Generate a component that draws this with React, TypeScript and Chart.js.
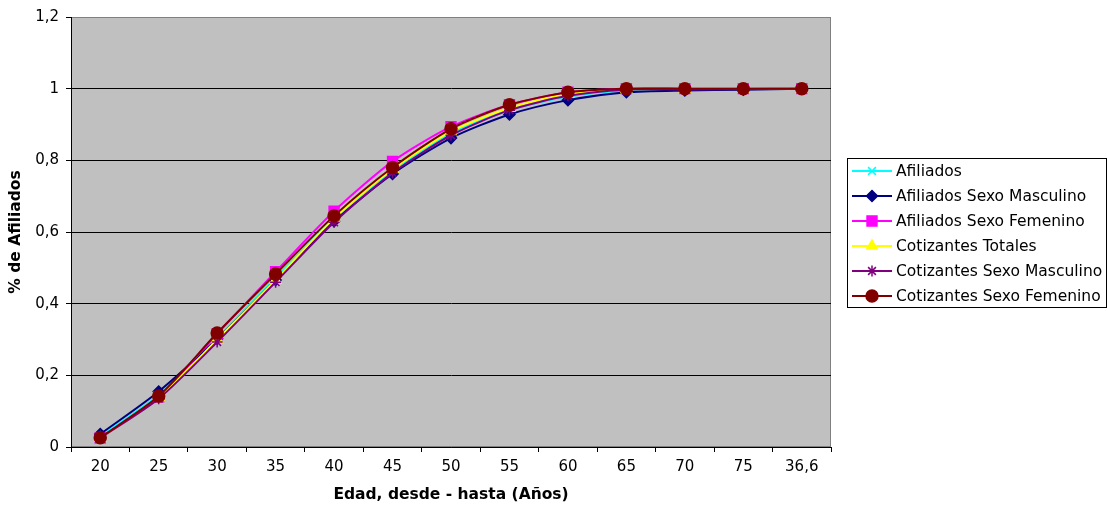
import React, { useEffect, useRef } from 'react';
import { Chart, registerables } from 'chart.js';
import { drawPoint } from 'chart.js/helpers';

Chart.register(...registerables);

const categories = ['20', '25', '30', '35', '40', '45', '50', '55', '60', '65', '70', '75', '36,6'];

const afiliados = [0.03, 0.145, 0.305, 0.472, 0.638, 0.772, 0.875, 0.94, 0.978, 0.995, 0.998, 0.999, 1];
const afiliadosMasculino = [0.036, 0.155, 0.302, 0.466, 0.63, 0.762, 0.862, 0.928, 0.968, 0.99, 0.995, 0.997, 1];
const afiliadosFemenino = [0.025, 0.14, 0.316, 0.489, 0.658, 0.797, 0.894, 0.955, 0.99, 1, 1, 1, 1];
const cotizantesTotales = [0.025, 0.138, 0.3, 0.466, 0.638, 0.775, 0.88, 0.946, 0.985, 0.998, 0.999, 0.999, 1];
const cotizantesMasculino = [0.025, 0.135, 0.293, 0.46, 0.627, 0.765, 0.87, 0.94, 0.98, 0.997, 0.998, 0.999, 1];
const cotizantesFemenino = [0.026, 0.142, 0.318, 0.483, 0.645, 0.78, 0.888, 0.955, 0.99, 1, 1, 1, 1];

const seriesNames = [
  'Afiliados',
  'Afiliados Sexo Masculino',
  'Afiliados Sexo Femenino',
  'Cotizantes Totales',
  'Cotizantes Sexo Masculino',
  'Cotizantes Sexo Femenino',
];
const seriesValues = [
  afiliados,
  afiliadosMasculino,
  afiliadosFemenino,
  cotizantesTotales,
  cotizantesMasculino,
  cotizantesFemenino,
];
const seriesColors = ['#00FFFF', '#000080', '#FF00FF', '#FFFF00', '#800080', '#800000'];
const seriesMarkers = ['crossRot', 'rectRot', 'rect', 'triangle', 'star', 'circle'];
const markerRadii = [5.5, 5.5, 7, 6, 5.5, 6];

const yTitle = '% de Afiliados';
const xTitle = 'Edad, desde - hasta (Años)';

const FONT = "'DejaVu Sans', Verdana, sans-serif";

const plotBackground = {
  id: 'plotBackground',
  beforeDraw(chart: any) {
    const { ctx, chartArea: a } = chart;
    ctx.save();
    ctx.fillStyle = '#C0C0C0';
    ctx.fillRect(a.left, a.top, a.right - a.left, a.bottom - a.top);
    ctx.strokeStyle = '#808080';
    ctx.lineWidth = 1;
    ctx.strokeRect(a.left + 0.5, a.top + 0.5, a.right - a.left - 1, a.bottom - a.top - 1);
    ctx.restore();
  },
};

const boxedLegend = {
  id: 'boxedLegend',
  afterDraw(chart: any) {
    const { ctx, chartArea: a } = chart;
    const boxLeft = a.right + 16.5;
    const boxTop = 158.5;
    const boxW = chart.width - boxLeft - 0.5;
    const rowH = 25;
    const n = chart.data.datasets.length;
    const boxH = n * rowH - 1;
    ctx.save();
    ctx.fillStyle = '#FFFFFF';
    ctx.fillRect(boxLeft, boxTop, boxW, boxH);
    ctx.strokeStyle = '#000000';
    ctx.lineWidth = 1;
    ctx.strokeRect(boxLeft, boxTop, boxW, boxH);
    chart.data.datasets.forEach((ds: any, i: number) => {
      const y = boxTop + 12.5 + i * rowH;
      const x0 = boxLeft + 4.5;
      ctx.strokeStyle = ds.borderColor;
      ctx.lineWidth = 2;
      ctx.beginPath();
      ctx.moveTo(x0, y);
      ctx.lineTo(x0 + 40, y);
      ctx.stroke();
      ctx.fillStyle = ds.pointBackgroundColor;
      ctx.strokeStyle = ds.pointBorderColor;
      ctx.lineWidth = ds.pointBorderWidth;
      drawPoint(ctx, { pointStyle: ds.pointStyle, radius: ds.pointRadius, rotation: 0, borderWidth: ds.pointBorderWidth }, x0 + 20, y);
      ctx.fillStyle = '#000000';
      ctx.font = `15.5px ${FONT}`;
      ctx.textBaseline = 'middle';
      ctx.textAlign = 'left';
      ctx.fillText(ds.label, x0 + 44, y + 1);
    });
    ctx.restore();
  },
};

export default function App() {
  const canvasRef = useRef<HTMLCanvasElement | null>(null);

  useEffect(() => {
    document.body.style.margin = '0';
    const canvas = canvasRef.current;
    if (!canvas) return;
    const datasets = seriesNames.map((name, i) => ({
      label: name,
      data: seriesValues[i],
      borderColor: seriesColors[i],
      backgroundColor: seriesColors[i],
      pointBackgroundColor: seriesColors[i],
      pointBorderColor: seriesColors[i],
      pointBorderWidth: 1.5,
      pointStyle: seriesMarkers[i],
      pointRadius: markerRadii[i],
      borderWidth: 2,
      tension: 0.25,
      fill: false,
      order: -i,
    }));
    const chart = new Chart(canvas, {
      type: 'line',
      data: { labels: categories, datasets },
      plugins: [plotBackground, boxedLegend],
      options: {
        responsive: false,
        animation: false,
        devicePixelRatio: 1,
        layout: { padding: { left: 0, top: 17, right: 276, bottom: 0 } },
        plugins: {
          legend: { display: false },
          tooltip: { enabled: false },
          title: { display: false },
        },
        scales: {
          x: {
            type: 'category',
            offset: true,
            grid: {
              offset: true,
              display: true,
              drawOnChartArea: false,
              drawTicks: true,
              tickLength: 5,
              color: '#000000',
              tickColor: '#000000',
            },
            border: { display: true, color: '#000000', width: 1 },
            ticks: {
              color: '#000000',
              font: { family: FONT, size: 15 },
              padding: 6,
              maxRotation: 0,
              autoSkip: false,
            },
            title: {
              display: true,
              text: xTitle,
              color: '#000000',
              font: { family: FONT, size: 15.5, weight: 'bold' },
              padding: { top: 0, bottom: 2 },
            },
            afterFit: (scale: any) => {
              scale.height = 59;
            },
          },
          y: {
            min: 0,
            max: 1.2,
            ticks: {
              stepSize: 0.2,
              color: '#000000',
              font: { family: FONT, size: 15 },
              padding: 7,
              callback: (v: any) => String(Number(Number(v).toFixed(1))).replace('.', ','),
            },
            grid: {
              display: true,
              drawOnChartArea: true,
              drawTicks: true,
              tickLength: 5,
              color: (c: any) => (c.tick && Math.abs(c.tick.value - 1.2) < 1e-6 ? '#808080' : '#000000'),
              tickColor: '#000000',
            },
            border: { display: true, color: '#000000', width: 1 },
            title: {
              display: true,
              text: yTitle,
              color: '#000000',
              font: { family: FONT, size: 15.5, weight: 'bold' },
              padding: { top: 7, bottom: 0 },
            },
            afterFit: (scale: any) => {
              scale.width = 71;
            },
          },
        },
      },
    } as any);
    return () => chart.destroy();
  }, []);

  return (
    <div style={{ width: 1107, height: 506 }}>
      <canvas ref={canvasRef} width={1107} height={506} style={{ display: 'block' }} />
    </div>
  );
}
